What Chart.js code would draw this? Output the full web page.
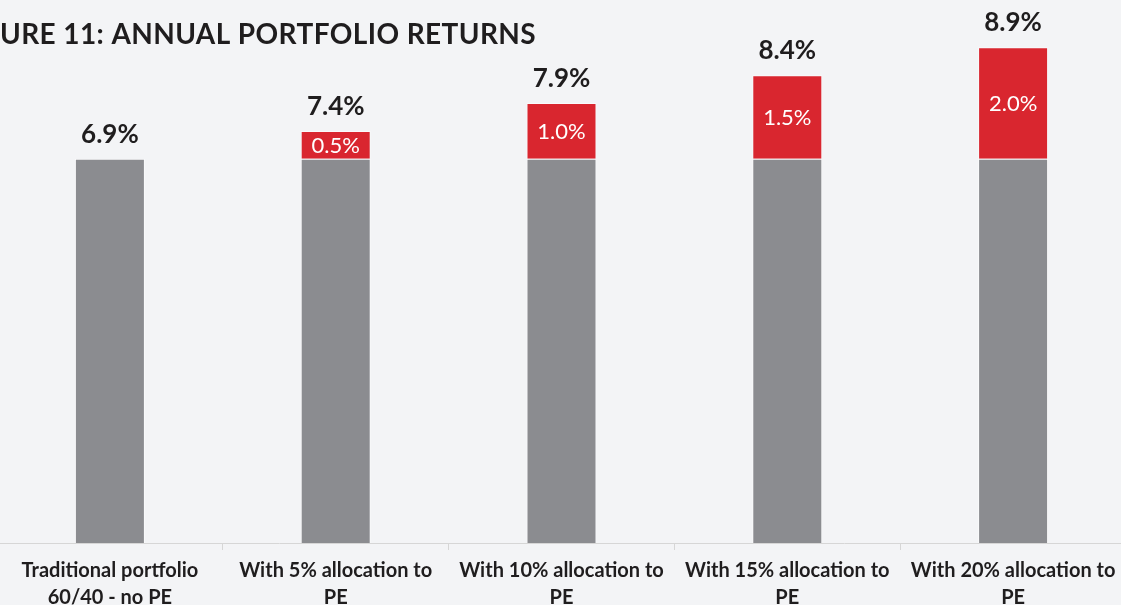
<!DOCTYPE html>
<html>
<head>
<meta charset="utf-8">
<script src="https://cdn.jsdelivr.net/npm/chart.js@4.4.1/dist/chart.umd.min.js"></script>
<style>
  html, body { margin: 0; padding: 0; background: #f3f4f6; overflow: hidden; }
  #wrap { position: absolute; left: -3px; top: 0; width: 1129px; height: 605px; }
</style>
</head>
<body>
<div id="wrap"><canvas id="returns-chart"></canvas></div>
<script>
const categories = [
    ['Traditional portfolio', '60/40 - no PE'],
    ['With 5% allocation to', 'PE'],
    ['With 10% allocation to', 'PE'],
    ['With 15% allocation to', 'PE'],
    ['With 20% allocation to', 'PE']
];
const baseReturns = [6.9, 6.9, 6.9, 6.9, 6.9];
const peUplift = [null, 0.5, 1.0, 1.5, 2.0];
const totalReturns = [6.9, 7.4, 7.9, 8.4, 8.9];
const chartTitle = 'URE 11: ANNUAL PORTFOLIO RETURNS';

const FONT = 'Lato';
const TEXT_COLOR = '#1f1d1e';

// draws the title, the totals above each bar and the PE uplift inside the red part
const barLabels = {
    id: 'barLabels',
    afterDatasetsDraw(chart) {
        const ctx = chart.ctx;
        const baseMeta = chart.getDatasetMeta(0);
        const peMeta = chart.getDatasetMeta(1);
        ctx.save();
        ctx.textAlign = 'center';

        baseMeta.data.forEach((bar, i) => {
            const pe = peUplift[i];
            let top = bar;
            if (pe) {
                const seg = peMeta.data[i];
                top = seg;
                ctx.font = `22px ${FONT}`;
                ctx.fillStyle = '#ffffff';
                ctx.textBaseline = 'middle';
                ctx.fillText(pe.toFixed(1) + '%', seg.x, (seg.y + seg.base) / 2 + 1);
            }
            ctx.font = `bold 26px ${FONT}`;
            ctx.fillStyle = TEXT_COLOR;
            ctx.textBaseline = 'alphabetic';
            ctx.fillText(totalReturns[i].toFixed(1) + '%', top.x, top.y - 16);
        });

        ctx.textAlign = 'left';
        ctx.textBaseline = 'alphabetic';
        ctx.font = `bold 28px ${FONT}`;
        ctx.letterSpacing = '0.4px';
        ctx.fillStyle = TEXT_COLOR;
        ctx.fillText(chartTitle, 3, 44);
        ctx.restore();
    }
};

new Chart(document.getElementById('returns-chart'), {
    type: 'bar',
    data: {
        labels: categories,
        datasets: [{
            label: 'Traditional 60/40',
            data: baseReturns,
            backgroundColor: '#8b8c90',
            borderColor: 'rgba(255, 255, 255, 0.55)',
            borderWidth: 1,
            borderSkipped: 'bottom'
        }, {
            label: 'PE allocation',
            data: peUplift,
            backgroundColor: '#d9262f',
            borderColor: 'rgba(255, 255, 255, 0.55)',
            borderWidth: 1,
            borderSkipped: 'bottom'
        }]
    },
    options: {
        responsive: true,
        maintainAspectRatio: false,
        animation: false,
        layout: { padding: 0 },
        datasets: {
            bar: { categoryPercentage: 1, barPercentage: 0.31 }
        },
        scales: {
            x: {
                stacked: true,
                offset: true,
                grid: {
                    display: true,
                    offset: true,
                    drawOnChartArea: false,
                    drawTicks: true,
                    tickLength: 7,
                    color: '#d6d6d6'
                },
                border: { display: true, color: '#d6d6d6', width: 1 },
                ticks: {
                    color: TEXT_COLOR,
                    font: { family: FONT, size: 20, weight: 'bold', lineHeight: 1.35 },
                    padding: 7,
                    maxRotation: 0,
                    autoSkip: false
                },
                afterFit(scale) { scale.height = 62; }
            },
            y: {
                stacked: true,
                display: false,
                min: 0,
                max: 9.75
            }
        },
        plugins: {
            legend: { display: false },
            tooltip: { enabled: false }
        }
    },
    plugins: [barLabels]
});
</script>
</body>
</html>
